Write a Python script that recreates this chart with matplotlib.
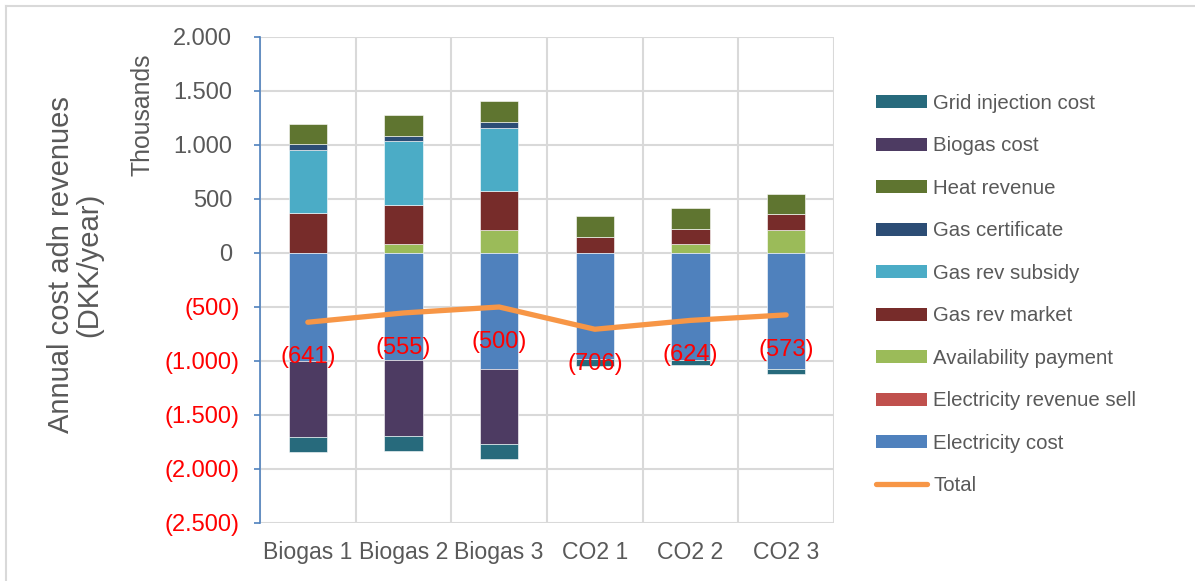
import matplotlib
matplotlib.use("Agg")
import matplotlib.pyplot as plt
from matplotlib.lines import Line2D
from matplotlib.patches import Patch
import numpy as np

plt.rcParams['font.family'] = ['Liberation Sans', 'DejaVu Sans']

categories = ['Biogas 1', 'Biogas 2', 'Biogas 3', 'CO2 1', 'CO2 2', 'CO2 3']
electricity_revenue_sell = [0, 0, 0, 0, 0, 0]
availability_payment = [0, 87, 217, 0, 87, 210]
gas_rev_market = [370, 361, 361, 152, 135, 151]
gas_rev_subsidy = [584, 586, 579, 0, 0, 0]
gas_certificate = [59, 53, 56, 0, 0, 0]
heat_revenue = [185, 191, 192, 188, 192, 185]
electricity_cost = [-1000, -994, -1070, -985, -993, -1077]
biogas_cost = [-703, -704, -699, 0, 0, 0]
grid_injection_cost = [-136, -135, -136, -60, -46, -46]
total = [-641, -555, -500, -706, -624, -573]
y_ticks = [2000, 1500, 1000, 500, 0, -500, -1000, -1500, -2000, -2500]

colors = {
    'Grid injection cost': '#276A7C',
    'Biogas cost': '#4D3B62',
    'Heat revenue': '#5F7530',
    'Gas certificate': '#2C4D75',
    'Gas rev subsidy': '#4BACC6',
    'Gas rev market': '#772C2A',
    'Availability payment': '#9BBB59',
    'Electricity revenue sell': '#C0504D',
    'Electricity cost': '#4F81BD',
    'Total': '#F79646',
}

W, H = 1195, 581
fig = plt.figure(figsize=(W / 100, H / 100), dpi=100)
ax = fig.add_axes([260 / W, 1 - 523 / H, (834 - 260) / W, (523 - 37) / H])

x = np.arange(len(categories))
bw = 0.4
pos_series = [
    ('Electricity revenue sell', electricity_revenue_sell),
    ('Availability payment', availability_payment),
    ('Gas rev market', gas_rev_market),
    ('Gas rev subsidy', gas_rev_subsidy),
    ('Gas certificate', gas_certificate),
    ('Heat revenue', heat_revenue),
]
neg_series = [
    ('Electricity cost', electricity_cost),
    ('Biogas cost', biogas_cost),
    ('Grid injection cost', grid_injection_cost),
]
bottom = np.zeros(len(categories))
for name, vals in pos_series:
    v = np.array(vals, dtype=float)
    ax.bar(x, v, bw, bottom=bottom, color=colors[name], edgecolor='white', linewidth=0.4, zorder=3)
    bottom += v
bottom = np.zeros(len(categories))
for name, vals in neg_series:
    v = np.array(vals, dtype=float)
    ax.bar(x, v, bw, bottom=bottom, color=colors[name], edgecolor='white', linewidth=0.4, zorder=3)
    bottom += v

ax.plot(x, total, color=colors['Total'], lw=3.8, solid_capstyle='round', zorder=4)
for xi, t in zip(x, total):
    ax.annotate(f"({abs(t)})", (xi, t), xytext=(0, -25), textcoords='offset points',
                ha='center', va='center', color='#FF0000', fontsize=17, zorder=5)

ax.set_xlim(-0.5, len(categories) - 0.5)
ax.set_ylim(-2500, 2000)
ax.set_yticks(y_ticks)
ax.set_yticklabels([''] * len(y_ticks))

def fmt(v):
    s = f"{abs(v):,.0f}".replace(',', '.')
    return s if v >= 0 else f"({s})"

ytr = ax.get_yaxis_transform()
for v in y_ticks:
    if v >= 0:
        ax.annotate(fmt(v), (0, v), xycoords=ytr, xytext=(-19.9, -1.2), textcoords='offset points',
                    ha='right', va='center', fontsize=17, color='#595959', annotation_clip=False)
    else:
        ax.annotate(fmt(v), (0, v), xycoords=ytr, xytext=(-14.6, -1.2), textcoords='offset points',
                    ha='right', va='center', fontsize=17, color='#FF0000', annotation_clip=False)

ax.tick_params(axis='y', direction='out', length=4.5, width=1.2, color='#4F81BD')
ax.set_xticks(x)
ax.set_xticklabels(categories)
ax.tick_params(axis='x', length=0, labelsize=16.6, labelcolor='#595959', pad=13)

for v in y_ticks:
    ax.axhline(v, color='#D9D9D9', lw=1.5, zorder=1)
for b in np.arange(-0.5, len(categories), 1.0):
    ax.axvline(b, color='#D9D9D9', lw=1.5, zorder=1)

for s in ['top', 'right', 'bottom']:
    ax.spines[s].set_visible(False)
ax.spines['left'].set_color('#4F81BD')
ax.spines['left'].set_linewidth(1.2)
ax.spines['left'].set_zorder(5)

legend_order = ['Grid injection cost', 'Biogas cost', 'Heat revenue', 'Gas certificate',
                'Gas rev subsidy', 'Gas rev market', 'Availability payment',
                'Electricity revenue sell', 'Electricity cost']
handles = [Patch(facecolor=colors[n], edgecolor='none', label=n) for n in legend_order]
handles.append(Line2D([0], [0], color=colors['Total'], lw=3.8, solid_capstyle='round', label='Total'))
leg = fig.legend(handles=handles, loc='upper left', bbox_to_anchor=(876 / W, 1 - 94 / H),
                 frameon=False, fontsize=14.7, handlelength=2.5, handleheight=0.6,
                 handletextpad=0.3, labelspacing=1.15, borderaxespad=0, borderpad=0)
for t in leg.get_texts():
    t.set_color('#595959')

fig.text(143 / W, 1 - 115 / H, 'Thousands', rotation=90, ha='center', va='center',
         fontsize=17.8, color='#595959')
fig.text(75 / W, 1 - 265 / H, 'Annual cost adn revenues\n(DKK/year)', rotation=90,
         ha='center', va='center', multialignment='center', fontsize=21, color='#595959',
         linespacing=1.0)

fig.add_artist(Line2D([6 / W, 6 / W], [0, 1 - 6 / H], transform=fig.transFigure, color='#D9D9D9', lw=1.5))
fig.add_artist(Line2D([6 / W, 1], [1 - 6 / H, 1 - 6 / H], transform=fig.transFigure, color='#D9D9D9', lw=1.5))

fig.savefig('out.png', dpi=100)
